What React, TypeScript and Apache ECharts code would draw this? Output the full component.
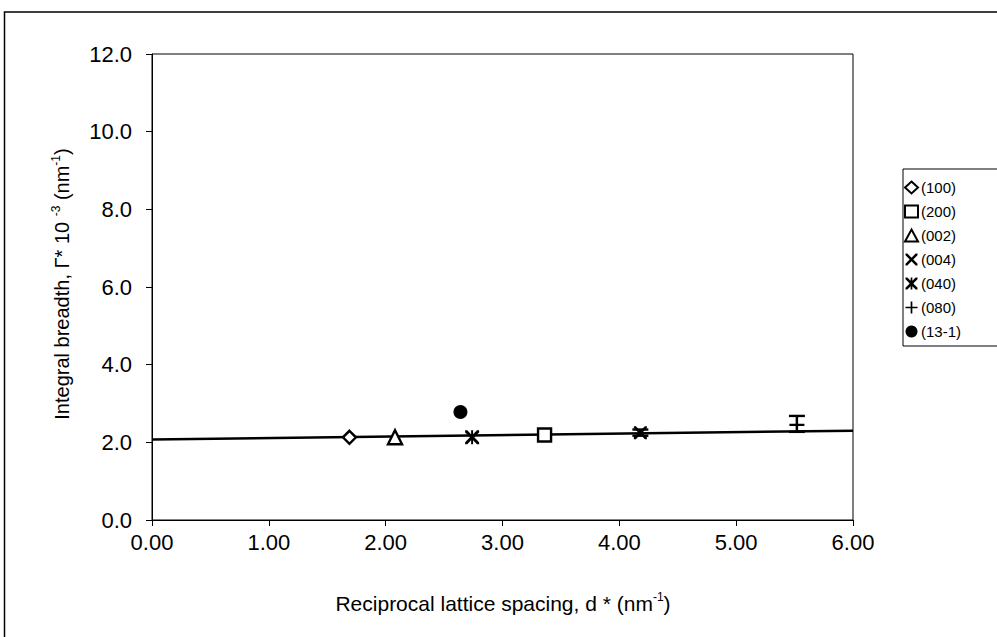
import React, { useEffect, useRef } from "react";
import * as echarts from "echarts";

// Reflection labels, in legend order
const reflections = ["(100)", "(200)", "(002)", "(004)", "(040)", "(080)", "(13-1)"];

// Reciprocal lattice spacing d* (nm^-1) for each reflection
const dStar = [1.69, 3.36, 2.08, 4.18, 2.74, 5.52, 2.64];

// Integral breadth Γ* × 10^-3 (nm^-1) for each reflection
const breadth = [2.13, 2.19, 2.13, 2.25, 2.13, 2.45, 2.78];

// Error bar bounds [d*, low, high]
const errorBars = [
  [4.18, 2.17, 2.33],
  [5.52, 2.27, 2.68],
];

// Williamson-Hall fit line end points
const fitX = [0, 6];
const fitY = [2.07, 2.3];

// Axis tick settings
const xTicks = { min: 0, max: 6, interval: 1 };
const yTicks = { min: 0, max: 12, interval: 2 };

const crossPath =
  "path://M0,0 L3,0 L10,7 L17,0 L20,0 L20,3 L13,10 L20,17 L20,20 L17,20 L10,13 L3,20 L0,20 L0,17 L7,10 L0,3 Z";
const starPath =
  "path://M0,0 L3,0 L8.6,5.6 L8.6,0 L11.4,0 L11.4,5.6 L17,0 L20,0 L20,3 L13,10 L20,17 L20,20 L17,20 L11.4,14.4 L11.4,20 L8.6,20 L8.6,14.4 L3,20 L0,20 L0,17 L7,10 L0,3 Z";
const plusPath =
  "path://M8.6,0 L11.4,0 L11.4,8.6 L20,8.6 L20,11.4 L11.4,11.4 L11.4,20 L8.6,20 L8.6,11.4 L0,11.4 L0,8.6 L8.6,8.6 Z";

const symbols = ["diamond", "rect", "triangle", crossPath, starPath, plusPath, "circle"];
const hollow = [true, true, true, false, false, false, false];
const sizes = [13, 13, 14, 13, 14, 15, 14];

const FONT = "Liberation Sans, Arial, sans-serif";

export default function App() {
  const ref = useRef<HTMLDivElement>(null);

  useEffect(() => {
    if (!ref.current) return;
    const chart = echarts.init(ref.current, undefined, { renderer: "svg" });

    const pointSeries = reflections.map((name, i) => ({
      name,
      type: "scatter",
      data: [[dStar[i], breadth[i]]],
      symbol: symbols[i],
      symbolSize: sizes[i],
      z: 5,
      itemStyle: hollow[i]
        ? { color: "#ffffff", borderColor: "#000000", borderWidth: 2.4, opacity: 1 }
        : { color: "#000000", borderWidth: 0, opacity: 1 },
    }));

    const supStyle = {
      fontSize: 12,
      fontFamily: FONT,
      verticalAlign: "top",
      lineHeight: 24,
      padding: [0, 0, 9, 0],
    };

    const option: any = {
      animation: false,
      backgroundColor: "#ffffff",
      textStyle: { fontFamily: FONT },
      grid: {
        left: 152,
        top: 54,
        width: 701,
        height: 466,
        containLabel: false,
        outerBoundsMode: "none",
        show: true,
        borderColor: "#000000",
        borderWidth: 1,
        backgroundColor: "transparent",
      },
      legend: {
        orient: "vertical",
        left: 904,
        top: 180,
        padding: 0,
        itemGap: 9,
        itemWidth: 13,
        itemHeight: 12,
        data: reflections,
        itemStyle: { opacity: 1 },
        textStyle: { fontFamily: FONT, fontSize: 15, color: "#000", padding: [0, 0, 0, -2] },
      },
      xAxis: {
        type: "value",
        min: xTicks.min,
        max: xTicks.max,
        interval: xTicks.interval,
        axisLine: { show: true, lineStyle: { color: "#000", width: 1 } },
        axisTick: { show: true, inside: false, length: 6, lineStyle: { color: "#000" } },
        splitLine: { show: false },
        axisLabel: {
          margin: 11,
          color: "#000",
          fontFamily: FONT,
          fontSize: 22,
          formatter: (v: number) => v.toFixed(2),
        },
      },
      yAxis: {
        type: "value",
        min: yTicks.min,
        max: yTicks.max,
        interval: yTicks.interval,
        axisLine: { show: true, lineStyle: { color: "#000", width: 1 } },
        axisTick: { show: true, inside: false, length: 6, lineStyle: { color: "#000" } },
        splitLine: { show: false },
        axisLabel: {
          margin: 20,
          color: "#000",
          fontFamily: FONT,
          fontSize: 22,
          formatter: (v: number) => v.toFixed(1),
        },
      },
      series: [
        {
          name: "fit",
          type: "line",
          data: fitX.map((x, i) => [x, fitY[i]]),
          symbol: "none",
          z: 2,
          lineStyle: { color: "#000", width: 2.5 },
        },
        {
          name: "error",
          type: "custom",
          z: 3,
          data: errorBars,
          renderItem: (params: any, api: any) => {
            const x = api.value(0);
            const lo = api.coord([x, api.value(1)]);
            const hi = api.coord([x, api.value(2)]);
            const half = 8;
            const style = { stroke: "#000", lineWidth: 2.4 };
            return {
              type: "group",
              children: [
                { type: "line", shape: { x1: lo[0], y1: lo[1], x2: hi[0], y2: hi[1] }, style },
                { type: "line", shape: { x1: lo[0] - half, y1: lo[1], x2: lo[0] + half, y2: lo[1] }, style },
                { type: "line", shape: { x1: hi[0] - half, y1: hi[1], x2: hi[0] + half, y2: hi[1] }, style },
              ],
            };
          },
        },
        ...pointSeries,
      ],
      graphic: [
        {
          type: "polyline",
          silent: true,
          z: 100,
          shape: { points: [[4.5, 637], [4.5, 12], [997, 12]] },
          style: { fill: "none", stroke: "#000", lineWidth: 1.5 },
        },
        {
          type: "polyline",
          silent: true,
          shape: { points: [[997, 169], [903, 169], [903, 346], [997, 346]] },
          style: { fill: "none", stroke: "#000", lineWidth: 1 },
        },
        {
          type: "text",
          x: 503,
          y: 603,
          style: {
            text: "Reciprocal lattice spacing, d * (nm{sup|-1})",
            fill: "#000",
            font: `21px ${FONT}`,
            align: "center",
            verticalAlign: "middle",
            rich: { sup: supStyle },
          },
        },
        {
          type: "text",
          x: 62,
          y: 284,
          rotation: Math.PI / 2,
          style: {
            text: "Integral breadth, Γ* 10 {sup|-3} (nm{sup|-1})",
            fill: "#000",
            font: `20px ${FONT}`,
            align: "center",
            verticalAlign: "middle",
            rich: { sup: supStyle },
          },
        },
      ],
    };

    chart.setOption(option);
    return () => chart.dispose();
  }, []);

  return (
    <div
      ref={ref}
      style={{ position: "absolute", left: 0, top: 0, width: 997, height: 637 }}
    />
  );
}
